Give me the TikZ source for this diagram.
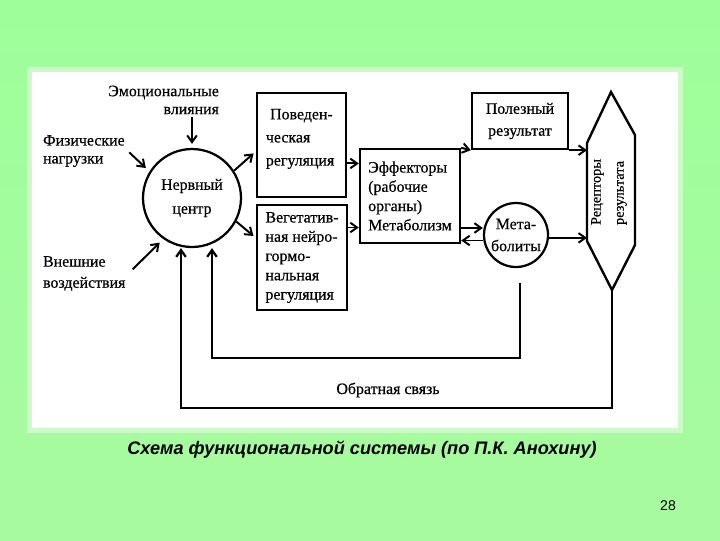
\documentclass[tikz,border=0pt]{standalone}
\usepackage{fontspec}
\setmainfont{Liberation Serif}[FakeBold=0.5]
\newfontfamily\capfont{Liberation Sans}
\usetikzlibrary{arrows.meta, positioning}

\definecolor{bgtop}{RGB}{158,255,154}
\definecolor{bgbot}{RGB}{168,250,160}
\definecolor{panelframe}{RGB}{205,250,200}

\newlength\pxu
\setlength\pxu{0.025cm}
\newcommand\dfont[1]{\fontsize{11.3}{#1}\selectfont}

\begin{document}
\begin{tikzpicture}[
  x=0.025cm, y=-0.025cm,
  box/.style={draw, line width=1.7pt, inner sep=2pt, align=left, font=\dfont{13.7pt}},
  hub/.style={draw, circle, line width=1.6pt, inner sep=0pt, align=center},
  lbl/.style={inner sep=2pt, font=\dfont{12.8pt}},
  arr/.style={-{Straight Barb[length=1.7mm, width=2.4mm]}, line width=1.4pt},
  fb/.style={line width=1.6pt},
]
  % slide background and white panel
  \shade[top color=bgtop, bottom color=bgbot] (0,0) rectangle (720,540);
  \useasboundingbox (0,0) rectangle (720,540);
  \fill[panelframe] (27,67) rectangle (683,433);
  \fill[white] (32,72) rectangle (678,428);

  \node[hub, minimum size=98\pxu, font=\dfont{17pt}] (center) at (192,198) {Нервный\\центр};

  \node[box, minimum width=89\pxu, minimum height=104\pxu] (behav) at (301.5,145) {};
  \node[lbl, align=left, font=\dfont{16.4pt}, below right=10pt and 5pt of behav.north west] (behavtxt)
    {\hspace{3pt}Поведен-\\ческая\\регуляция};
  \node[box, minimum width=90\pxu, minimum height=105\pxu] (veg) at (302,257.5)
    {Вегетатив-\\ная нейро-\\гормо-\\нальная\\регуляция};
  \node[box, minimum width=100\pxu, minimum height=94\pxu] (eff) at (410,196)
    {Эффекторы\\(рабочие\\органы)\\Метаболизм};
  \node[box, align=center, font=\dfont{15.6pt}, minimum width=96\pxu, minimum height=56\pxu] (useful) at (520,121)
    {Полезный\\результат};
  \node[hub, minimum size=64\pxu, font=\dfont{15.6pt}] (metab) at (516,235) {Мета-\\болиты};

  % receptors of the result
  \coordinate (rtop) at (611,92);
  \coordinate (rur) at (635,135);
  \coordinate (rlr) at (635,245);
  \coordinate (rbot) at (612,290);
  \coordinate (rll) at (587,241);
  \coordinate (rul) at (587,143);
  \draw[line width=1.7pt] (rtop) -- (rur) -- (rlr) -- (rbot) -- (rll) -- (rul) -- cycle;
  \node[rotate=90, align=left, inner sep=0pt, font=\fontsize{10.2}{16.4}\selectfont] (recept) at (609,192)
    {Рецепторы\\результата};

  % inputs
  \node[lbl, align=right, anchor=east] (emo) at (222,100) {Эмоциональные\\влияния};
  \node[lbl, align=left, anchor=west] (phys) at (40,151) {Физические\\нагрузки};
  \node[lbl, align=left, anchor=west, font=\dfont{15pt}] (extern) at (40,273.5) {Внешние\\воздействия};

  \draw[arr, shorten >=4\pxu] (emo.south -| center) -- (center.north);
  \draw[arr, shorten <=2\pxu, shorten >=5\pxu] (phys.east) -- (center.148);
  \draw[arr, shorten <=6\pxu, shorten >=5\pxu] (extern.east) -- (center.235);

  \draw[arr, shorten >=3\pxu] (center.33) -- (behav.188);
  \draw[arr, shorten >=3\pxu] (center.-28) -- (veg.157);
  \draw[arr] (behav.-22) -- (behav.-22 -| eff.west);
  \draw[arr] (veg.33) -- (veg.33 -| eff.west);
  \draw[arr] (eff.north east) -- (useful.south west);
  \draw[arr] (useful.south east) -- (useful.south east -| rul);
  \draw[arr] (eff.-32) -- (eff.-32 -| metab.west);
  \draw[arr] (eff.-41 -| metab.west) -- (eff.-41);
  \draw[arr] (metab.-5) -- (metab.-5 -| rll);

  % feedback
  \coordinate (fbouter) at (181,408);
  \coordinate (fbinner) at (212,358);
  \coordinate (fbstart) at (520,283);
  \draw[arr, fb] (rbot) |- (fbouter) -- (fbouter |- center.south);
  \draw[arr, fb] (fbstart) |- (fbinner) -- (fbinner |- center.south);
  \node[lbl] (fblabel) at (388,390) {Обратная связь};

  \node[font={\capfont\fontsize{12.9}{15}\selectfont\bfseries\itshape}] (caption) at (362,450)
    {Схема функциональной системы (по П.К. Анохину)};
  \node[font={\capfont\fontsize{10}{12}\selectfont}] (pagenum) at (668,506) {28};
\end{tikzpicture}
\end{document}
